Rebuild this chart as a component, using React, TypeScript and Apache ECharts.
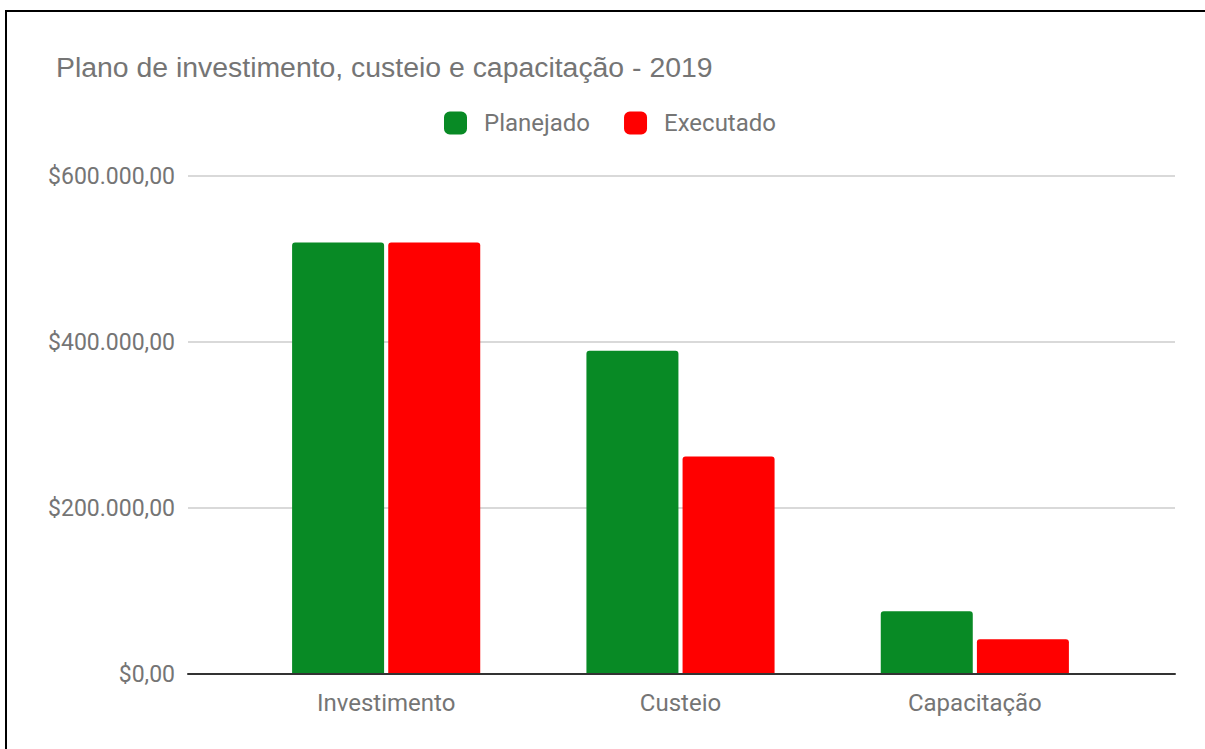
import React, { useEffect, useRef } from "react";
import * as echarts from "echarts";

const categories = ["Investimento", "Custeio", "Capacitação"];
const planejado = [520000, 389500, 75500];
const executado = [520000, 262000, 42000];
const yTicks = [0, 200000, 400000, 600000];
const titleText = "Plano de investimento, custeio e capacitação - 2019";

function fmtBRL(v: number): string {
  const s = Math.round(v).toString();
  const withDots = s.replace(/\B(?=(\d{3})+(?!\d))/g, ".");
  return "$" + withDots + ",00";
}

export default function App() {
  const ref = useRef<HTMLDivElement>(null);
  useEffect(() => {
    if (!ref.current) return;
    const chart = echarts.init(ref.current, null, { renderer: "svg" });
    const font = "Roboto, 'Noto Sans', sans-serif";
    const titleFont = "'Liberation Sans', Arial, sans-serif";
    const textColor = "#757575";
    chart.setOption({
      animation: false,
      backgroundColor: "transparent",
      title: {
        text: titleText,
        left: 56,
        top: 53,
        padding: 0,
        textStyle: { fontFamily: titleFont, fontSize: 28.4, fontWeight: "normal", color: textColor, lineHeight: 28 },
      },
      legend: {
        left: 444,
        top: 111,
        padding: 0,
        itemWidth: 23,
        itemHeight: 23,
        itemGap: 34,
        icon: "roundRect",
        textStyle: { fontFamily: font, fontSize: 24, color: textColor, padding: [3, 0, 0, 12] },
        data: ["Planejado", "Executado"],
      },
      grid: [
        { left: 188, right: 30, top: 176, bottom: 75, containLabel: false },
        { left: 239, right: 83, top: 176, bottom: 75, containLabel: false },
      ],
      xAxis: [
        {
          type: "value",
          gridIndex: 0,
          min: 0,
          max: 1,
          axisLabel: { show: false },
          axisTick: { show: false },
          splitLine: { show: false },
          axisLine: { show: true, lineStyle: { color: "#333333", width: 2 } },
          z: 5,
        },
        {
          type: "category",
          gridIndex: 1,
          data: categories,
          axisLine: { show: false },
          axisTick: { show: false },
          axisLabel: { fontFamily: font, fontSize: 24, color: textColor, margin: 17 },
        },
      ],
      yAxis: [
        {
          type: "value",
          gridIndex: 0,
          min: yTicks[0],
          max: yTicks[yTicks.length - 1],
          interval: yTicks[1] - yTicks[0],
          axisLine: { show: false },
          axisTick: { show: false },
          axisLabel: {
            fontFamily: font,
            fontSize: 23,
            color: textColor,
            margin: 13,
            formatter: (v: number) => fmtBRL(v),
          },
          splitLine: { show: true, lineStyle: { color: "#cccccc", width: 1.5 } },
        },
        {
          type: "value",
          gridIndex: 1,
          min: yTicks[0],
          max: yTicks[yTicks.length - 1],
          interval: yTicks[1] - yTicks[0],
          show: false,
          splitLine: { show: false },
        },
      ],
      series: [
        {
          name: "Planejado",
          type: "bar",
          xAxisIndex: 1,
          yAxisIndex: 1,
          data: planejado,
          barWidth: 92,
          barGap: "4.5%",
          itemStyle: { color: "#088a25", borderRadius: [3, 3, 0, 0] },
        },
        {
          name: "Executado",
          type: "bar",
          xAxisIndex: 1,
          yAxisIndex: 1,
          data: executado,
          barWidth: 92,
          barGap: "4.5%",
          itemStyle: { color: "#ff0000", borderRadius: [3, 3, 0, 0] },
        },
      ],
    });
    return () => chart.dispose();
  }, []);

  return (
    <div style={{ position: "fixed", left: 0, top: 0, width: 1205, height: 749, background: "#fff", overflow: "hidden" }}>
      <div
        style={{
          position: "absolute",
          left: 5,
          top: 10,
          width: 1300,
          height: 900,
          borderLeft: "2px solid #000",
          borderTop: "2px solid #000",
        }}
      />
      <div ref={ref} style={{ position: "absolute", left: 0, top: 0, width: 1205, height: 749 }} />
    </div>
  );
}
